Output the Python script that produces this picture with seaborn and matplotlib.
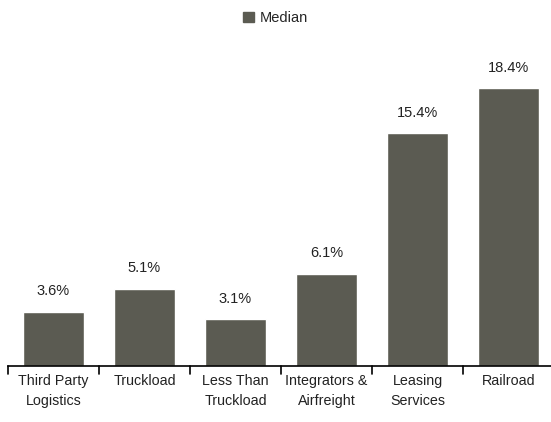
import matplotlib
matplotlib.use("Agg")
import matplotlib.pyplot as plt
import seaborn as sns
import pandas as pd
from matplotlib.patches import Patch

categories = ["Third Party\nLogistics", "Truckload", "Less Than\nTruckload",
              "Integrators &\nAirfreight", "Leasing\nServices", "Railroad"]
median_values = [3.6, 5.1, 3.1, 6.1, 15.4, 18.4]
value_labels = ["3.6%", "5.1%", "3.1%", "6.1%", "15.4%", "18.4%"]
series_name = "Median"

sns.set_theme(style="white")
plt.rcParams['font.family'] = ['Liberation Sans Narrow', 'Liberation Sans', 'DejaVu Sans']

df = pd.DataFrame({"Category": categories, "Value": median_values})
bar_color = "#5b5b52"

fig = plt.figure(figsize=(5.51, 4.22), dpi=100)
ax = fig.add_axes([8/551, 1 - 366/422, 1 - 8/551 + 3/551, (366 - 64)/422])
sns.barplot(data=df, x="Category", y="Value", color=bar_color, width=0.66,
            saturation=1, ax=ax)
ax.set_ylim(0, 20)
ax.set_xlim(-0.5, 5.5)
for i, (v, lab) in enumerate(zip(median_values, value_labels)):
    ax.text(i, v + 0.9, lab, ha="center", va="bottom", fontsize=10.5, color="#222222")

for s in ["top", "right", "left"]:
    ax.spines[s].set_visible(False)
ax.spines["bottom"].set_color("black")
ax.spines["bottom"].set_linewidth(1.2)
ax.set_yticks([])
ax.set_xlabel("")
ax.set_ylabel("")
ax.set_xticks(range(len(categories)))
ax.set_xticklabels(categories, fontsize=10.3, color="#222222", linespacing=1.5)
ax.tick_params(axis="x", length=0, pad=6)
for b in [-0.5, 0.5, 1.5, 2.5, 3.5, 4.5, 5.5]:
    ax.plot([b, b], [0, -0.5], color="black", lw=1.2, clip_on=False)

fig.legend(handles=[Patch(color=bar_color, label=series_name)], loc="center",
           bbox_to_anchor=(0.5, 1 - 18/422), frameon=False, fontsize=10.5,
           handlelength=0.7, handleheight=0.7, handletextpad=0.4)

fig.savefig("out.png", dpi=100)
